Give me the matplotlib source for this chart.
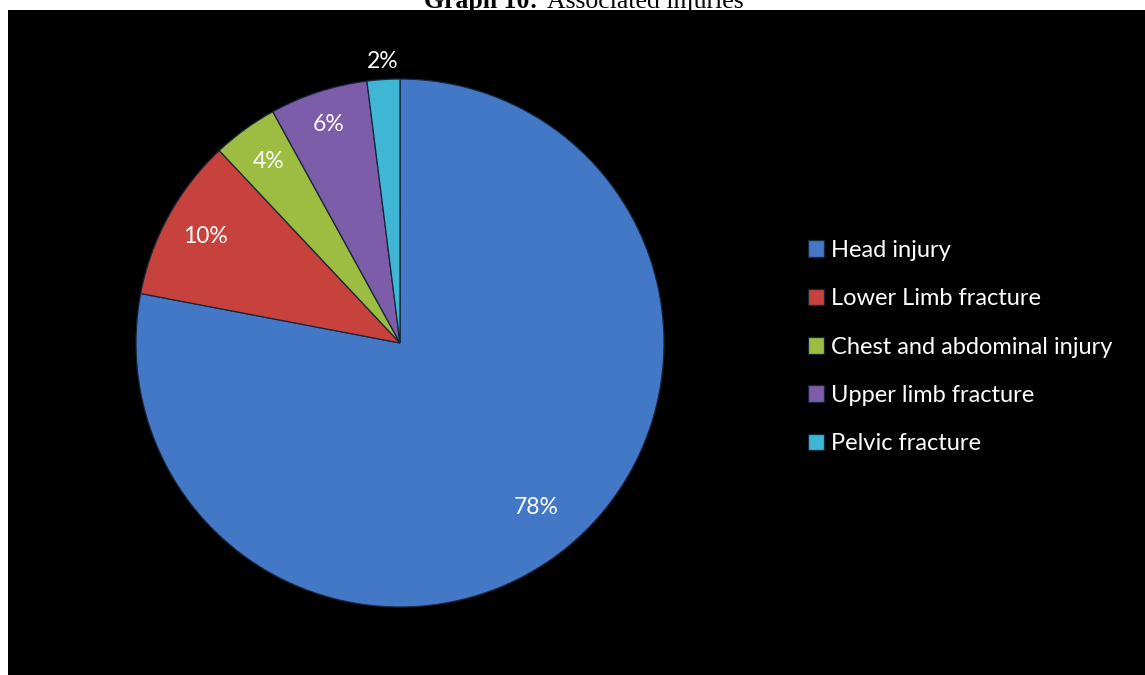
import numpy as np
import matplotlib
matplotlib.use('Agg')
import matplotlib.pyplot as plt
from matplotlib.patches import Rectangle

categories = ['Head injury', 'Lower Limb fracture', 'Chest and abdominal injury',
              'Upper limb fracture', 'Pelvic fracture']
shares = [78, 10, 4, 6, 2]
colors = ['#4278C6', '#C8423D', '#9CBD42', '#7D5CA9', '#3EB6D4']

W, H = 1145, 675
fig = plt.figure(figsize=(W / 100, H / 100), dpi=100, facecolor='white')

# black chart area below the caption strip
fig.patches.append(Rectangle((8 / W, 0), 1, (H - 10) / H, transform=fig.transFigure,
                             facecolor='black', edgecolor='none', zorder=-1))

# caption (top part runs off the page)
fig.text(538 / W, (H - 8) / H, 'Graph 10:', ha='right', va='baseline',
         family='Liberation Serif', fontweight='bold', fontsize=18.5, zorder=-2)
fig.text(547 / W, (H - 8) / H, 'Associated injuries', ha='left', va='baseline',
         family='Liberation Serif', fontsize=18.5, zorder=-2)

# pie centred at (400, 343) px with radius 264 px
cx, cy, r = 400, H - 343, 264
ax = fig.add_axes([(cx - r) / W, (cy - r) / H, 2 * r / W, 2 * r / H])
ax.set_facecolor('black')
wedges, _ = ax.pie(shares, colors=colors, startangle=90, counterclock=False, radius=1,
                   wedgeprops=dict(edgecolor='#18263a', linewidth=0.9))
ax.set_xlim(-1, 1)
ax.set_ylim(-1, 1)
ax.axis('off')

label_r = [0.81, 0.84, 0.85, 0.87, 1.07]
for w, v, lr in zip(wedges, shares, label_r):
    mid = np.deg2rad((w.theta1 + w.theta2) / 2)
    ax.text(lr * np.cos(mid), lr * np.sin(mid), f'{v}%', ha='center', va='center',
            color='white', family='Lato', fontsize=16.5, clip_on=False)

leg = fig.legend(wedges, categories, loc='center left',
                 bbox_to_anchor=(796 / W, (H - 347) / H), bbox_transform=fig.transFigure,
                 frameon=False, borderpad=0, handlelength=0.7, handleheight=0.7,
                 handletextpad=0.28, labelspacing=1.16,
                 prop=dict(family='Lato', size=17))
for t in leg.get_texts():
    t.set_color('white')

fig.savefig('out.png', dpi=100, facecolor='white')
